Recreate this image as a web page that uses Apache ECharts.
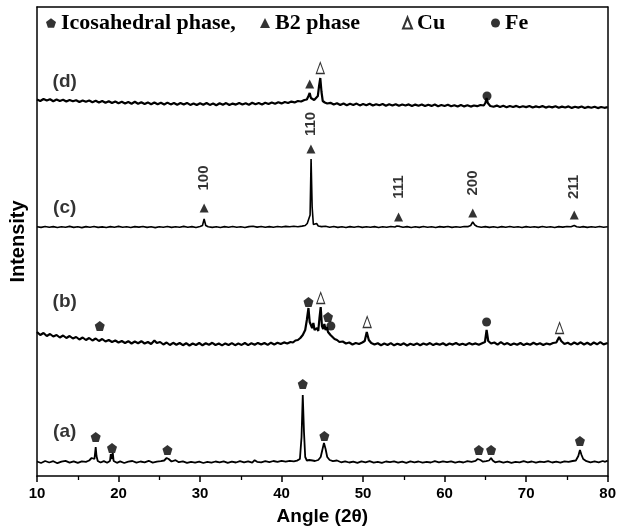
<!DOCTYPE html>
<html><head><meta charset="utf-8">
<script src="https://cdn.jsdelivr.net/npm/echarts@6/dist/echarts.min.js"></script>
<style>html,body{margin:0;padding:0;background:#fff}#c{width:619px;height:531px}</style>
</head><body><div id="c"></div><script>
// ---- data: [2theta, intensity above the trace baseline] ----
const traceA = [[10,0.5],[10.5,-1],[11,1],[11.5,-0.5],[12,0.8],[12.5,-1.2],[13,0.3],[13.5,1.1],[14,-0.6],[14.5,0.7],[15,-0.9],[15.5,0.6],[16,0.2],[16.4,1.5],[16.7,4],[16.9,5],[17.05,3],[17.2,15],[17.3,6],[17.45,1],[17.8,-0.5],[18.2,0.9],[18.6,-0.7],[18.95,1],[19.05,8],[19.15,3],[19.3,9],[19.4,1],[19.8,-0.8],[20.2,0.6],[20.7,-1],[21.2,0.4],[21.7,1],[22.2,-0.7],[22.7,0.5],[23.2,-0.3],[23.7,1.2],[24.2,-0.6],[24.7,0.3],[25.2,0.8],[25.6,1.5],[25.9,4],[26.15,3],[26.5,0.5],[27,1.8],[27.4,-0.2],[27.9,0.6],[28.4,-0.9],[28.9,0.2],[29.4,-0.6],[29.9,0.4],[30.4,-1],[30.9,0.1],[31.4,-0.7],[31.9,0.5],[32.4,-0.4],[32.9,0.7],[33.4,-0.8],[33.9,0.3],[34.4,-0.5],[34.9,0.9],[35.4,-0.3],[35.9,0.6],[36.4,-0.7],[36.7,1.8],[37,0.2],[37.5,-0.4],[38,0.8],[38.5,-0.2],[39,1],[39.5,0.1],[40,1.2],[40.5,0.3],[41,1.1],[41.5,0.6],[41.9,1.4],[42.25,3],[42.45,25],[42.6,67],[42.75,30],[42.9,5],[43.1,1.5],[43.4,2],[43.6,4],[43.8,1.5],[44.1,1],[44.5,2],[44.8,5],[45.0,12],[45.2,19],[45.4,13],[45.6,5],[45.9,2],[46.3,0.8],[46.8,1.5],[47.3,-0.3],[47.8,0.7],[48.3,-0.5],[48.8,0.4],[49.3,-0.8],[49.8,0.6],[50.3,-0.4],[50.8,0.8],[51.3,-0.6],[51.8,0.2],[52.3,-0.9],[52.8,0.5],[53.3,-0.2],[53.8,0.7],[54.3,-0.6],[54.8,0.3],[55.3,-0.8],[55.8,0.6],[56.3,-0.3],[56.8,0.5],[57.3,-0.7],[57.8,0.2],[58.3,-0.5],[58.8,0.8],[59.3,-0.4],[59.8,0.6],[60.3,-0.2],[60.8,0.7],[61.3,-0.6],[61.8,0.3],[62.3,-0.5],[62.8,0.9],[63.3,0.2],[63.8,1.2],[64.05,3],[64.2,4],[64.4,2],[64.7,0.3],[65.1,0.8],[65.45,1.5],[65.7,4],[65.9,1.5],[66.2,-0.3],[66.7,0.6],[67.2,-0.6],[67.7,0.4],[68.2,-0.9],[68.7,0.2],[69.2,-0.4],[69.7,0.8],[70.2,-0.3],[70.7,0.5],[71.2,-0.7],[71.7,0.4],[72.2,-0.2],[72.7,0.9],[73.2,-0.5],[73.7,0.3],[74.2,-0.6],[74.7,0.7],[75.2,0.1],[75.7,1],[76.1,1.5],[76.4,6],[76.6,12],[76.8,7],[77.0,3],[77.4,0.8],[77.9,-0.4],[78.4,0.6],[78.9,-0.3],[79.4,1],[79.7,0.2],[80,1.4]];
const traceB = [[10,12],[10.4,9],[10.8,11],[11.2,8],[11.6,10],[12,7.5],[12.4,9],[12.8,6.5],[13.2,8.5],[13.6,6],[14,8],[14.4,5.5],[14.8,7],[15.2,4.5],[15.6,6.5],[16,4],[16.4,6],[16.8,3.5],[17.2,5.5],[17.6,3],[18,5],[18.4,2.5],[18.8,4],[19.2,2],[19.6,3.5],[20,1.5],[20.4,3],[20.8,1],[21.2,2.8],[21.6,0.5],[22,2.5],[22.4,0.8],[22.8,2.8],[23.2,0.5],[23.6,2],[24,0],[24.4,3.5],[24.7,1],[25.1,2],[25.5,-0.5],[25.9,1.5],[26.3,-1],[26.7,1.2],[27.1,-0.8],[27.5,1],[27.9,-1.2],[28.3,0.8],[28.7,-1.5],[29.1,0.5],[29.5,-1],[29.9,1],[30.3,-1.3],[30.7,0.7],[31.1,-0.8],[31.5,1.2],[31.9,-1],[32.3,0.5],[32.7,-1.4],[33.1,0.6],[33.5,-1],[33.9,0.9],[34.3,-1.2],[34.7,0.4],[35.1,-0.9],[35.5,1],[35.9,-1.1],[36.3,0.7],[36.7,-0.8],[37.1,1.1],[37.5,-0.6],[37.9,1],[38.3,-0.9],[38.7,1.3],[39.1,-0.4],[39.5,1.2],[39.9,0],[40.3,1.6],[40.7,0.5],[41.1,2],[41.4,1.5],[41.7,3.5],[42,4],[42.3,6],[42.6,9],[42.9,14],[43.1,24],[43.3,36],[43.45,22],[43.6,20],[43.75,16],[43.9,21],[44.05,14],[44.2,12],[44.35,16],[44.5,13],[44.65,26],[44.8,37],[44.95,18],[45.1,15],[45.25,20],[45.4,14],[45.55,17],[45.7,12],[45.85,14],[46.0,9],[46.2,8],[46.5,5],[46.8,4],[47.1,2],[47.5,2.5],[47.9,0.5],[48.3,1.5],[48.7,-0.5],[49.1,1],[49.5,0],[49.9,1.5],[50.2,3],[50.45,12],[50.7,4],[51,1],[51.4,-0.5],[51.8,0.8],[52.2,-1.2],[52.6,0.4],[53,-1],[53.4,0.9],[53.8,-1.3],[54.2,0.3],[54.6,-0.9],[55,0.7],[55.4,-1.5],[55.8,0.2],[56.2,-1],[56.6,0.6],[57,-1.3],[57.4,0.5],[57.8,-0.7],[58.2,0.9],[58.6,-1.1],[59,0.4],[59.4,-0.8],[59.8,0.8],[60.2,-1.2],[60.6,0.5],[61,-0.6],[61.4,1],[61.8,-0.9],[62.2,0.3],[62.6,-1],[63,0.9],[63.4,-0.5],[63.8,0.6],[64.2,-0.8],[64.6,0.7],[64.95,2],[65.15,14],[65.35,3],[65.7,0.5],[66.1,1.5],[66.5,-0.6],[66.9,1.8],[67.3,-0.4],[67.7,0.9],[68.1,-1],[68.5,0.6],[68.9,-0.8],[69.3,1],[69.7,-1.1],[70.1,0.4],[70.5,-0.7],[70.9,1.2],[71.3,-0.5],[71.7,0.8],[72.1,-0.9],[72.5,0.5],[72.9,-0.4],[73.3,1],[73.7,1.5],[74.05,7],[74.3,3],[74.7,0],[75.1,1.2],[75.5,-0.6],[75.9,1.5],[76.3,-0.2],[76.7,1.7],[77.1,-0.5],[77.5,1.2],[77.9,-0.8],[78.3,1.5],[78.7,-0.3],[79.1,1.8],[79.5,-0.4],[80,1]];
const traceC = [[10,0.3],[10.5,-0.4],[11,0.5],[11.5,-0.2],[12,0.4],[12.5,-0.5],[13,0.2],[13.5,-0.3],[14,0.6],[14.5,-0.4],[15,0.3],[15.5,-0.6],[16,0.4],[16.5,-0.2],[17,0.5],[17.5,-0.4],[18,0.1],[18.5,-0.5],[19,0.4],[19.5,-0.2],[20,0.6],[20.5,-0.3],[21,0.2],[21.5,-0.5],[22,0.4],[22.5,-0.1],[23,0.5],[23.5,-0.4],[24,0.2],[24.5,-0.6],[25,0.3],[25.5,-0.2],[26,0.5],[26.5,-0.4],[27,0.3],[27.5,-0.3],[28,0.6],[28.5,-0.2],[29,0.4],[29.5,-0.5],[30,0.5],[30.3,1.5],[30.5,8],[30.7,1.5],[31,0.2],[31.5,-0.4],[32,0.3],[32.5,-0.5],[33,0.4],[33.5,-0.2],[34,0.5],[34.5,-0.3],[35,0.2],[35.5,-0.5],[36,0.4],[36.5,0.8],[37,-0.1],[37.5,0.5],[38,-0.3],[38.5,0.4],[39,-0.2],[39.5,0.5],[40,0],[40.5,0.6],[41,0.2],[41.5,0.7],[42,0.3],[42.5,0.9],[42.9,1.5],[43.15,3.5],[43.35,2],[43.5,12],[43.62,68],[43.75,20],[43.9,2.5],[44.1,1.5],[44.3,3.5],[44.5,1],[44.9,0.4],[45.4,0.8],[45.9,-0.2],[46.4,0.5],[46.9,-0.4],[47.4,0.3],[47.9,-0.5],[48.4,0.4],[48.9,-0.2],[49.4,0.5],[49.9,-0.4],[50.4,0.2],[50.9,-0.3],[51.4,0.4],[51.9,-0.5],[52.4,0.3],[52.9,-0.2],[53.4,0.5],[53.9,0],[54.15,1],[54.3,2.5],[54.5,0.6],[54.9,-0.3],[55.4,0.4],[55.9,-0.5],[56.4,0.2],[56.9,-0.4],[57.4,0.5],[57.9,-0.2],[58.4,0.3],[58.9,-0.5],[59.4,0.4],[59.9,-0.1],[60.4,0.5],[60.9,-0.4],[61.4,0.2],[61.9,-0.3],[62.4,0.5],[62.9,0.4],[63.2,1.5],[63.45,5],[63.7,2],[64,0.5],[64.5,-0.2],[65,0.4],[65.5,-0.4],[66,0.3],[66.5,-0.5],[67,0.4],[67.5,-0.2],[68,0.5],[68.5,-0.3],[69,0.2],[69.5,-0.5],[70,0.4],[70.5,-0.2],[71,0.3],[71.5,-0.4],[72,0.5],[72.5,-0.3],[73,0.2],[73.5,-0.5],[74,0.4],[74.5,-0.1],[75,0.5],[75.5,0.2],[75.9,1.5],[76.2,0.3],[76.6,-0.3],[77,0.4],[77.5,-0.4],[78,0.3],[78.5,-0.2],[79,0.5],[79.5,-0.3],[80,0.2]];
const traceD = [[10,4.5],[10.4,3],[10.8,5],[11.2,3.5],[11.6,4.8],[12,2.8],[12.4,4.5],[12.8,3],[13.2,4.2],[13.6,2.5],[14,4],[14.4,2.8],[14.8,3.8],[15.2,2],[15.6,3.6],[16,2.2],[16.4,3.5],[16.8,1.8],[17.2,3.2],[17.6,1.5],[18,3],[18.4,1.2],[18.8,2.8],[19.2,1],[19.6,2.5],[20,0.8],[20.4,2.2],[20.8,0.5],[21.2,2],[21.6,0.3],[22,2.2],[22.4,0.2],[22.8,1.8],[23.2,0],[23.6,1.6],[24,-0.2],[24.4,1.5],[24.8,-0.3],[25.2,1.2],[25.6,-0.5],[26,1.4],[26.4,-0.4],[26.8,1],[27.2,-0.8],[27.6,0.9],[28,-0.6],[28.4,1.1],[28.8,-0.9],[29.2,0.6],[29.6,-1],[30,0.8],[30.4,-0.7],[30.8,1],[31.2,-0.9],[31.6,0.5],[32,-1.2],[32.4,0.7],[32.8,-0.8],[33.2,0.9],[33.6,-1],[34,0.4],[34.4,-0.6],[34.8,1],[35.2,-0.5],[35.6,0.8],[36,-0.7],[36.4,1.2],[36.8,-0.3],[37.2,1],[37.6,-0.4],[38,1.3],[38.4,0],[38.8,1.5],[39.2,0.3],[39.6,1.8],[40,0.6],[40.4,2],[40.8,1],[41.2,2.4],[41.6,1.6],[42,3],[42.4,2.5],[42.8,4],[43.1,4.5],[43.3,8],[43.45,11],[43.6,6],[43.8,5],[44.0,4],[44.2,4.5],[44.45,8],[44.6,18],[44.75,26],[44.9,12],[45.05,3],[45.3,1.5],[45.6,0.5],[46,1.2],[46.4,-0.5],[46.8,0.8],[47.2,-1],[47.6,0.5],[48,-1.2],[48.4,0.2],[48.8,-1],[49.2,0.4],[49.6,-1.4],[50,0],[50.4,-1.2],[50.8,0.3],[51.2,-1.5],[51.6,-0.2],[52,-1.3],[52.4,0],[52.8,-1.7],[53.2,-0.3],[53.6,-1.6],[54,-0.2],[54.4,-1.8],[54.8,-0.5],[55.2,-1.5],[55.6,-0.4],[56,-2],[56.4,-0.6],[56.8,-1.8],[57.2,-0.5],[57.6,-2.1],[58,-0.8],[58.4,-1.9],[58.8,-0.6],[59.2,-2.2],[59.6,-1],[60,-2],[60.4,-0.8],[60.8,-2.3],[61.2,-1.2],[61.6,-2.5],[62,-1],[62.4,-2.4],[62.8,-1.3],[63.2,-2.6],[63.6,-1.5],[64,-2.2],[64.4,-1],[64.8,-1.5],[65.0,1],[65.15,6],[65.3,1],[65.6,-2],[66,-2.8],[66.4,-1.6],[66.8,-3],[67.2,-1.8],[67.6,-3.2],[68,-2],[68.4,-3],[68.8,-1.9],[69.2,-3.3],[69.6,-2.2],[70,-3.1],[70.4,-2],[70.8,-3.5],[71.2,-2.4],[71.6,-3.2],[72,-2.1],[72.4,-3.6],[72.8,-2.5],[73.2,-3.4],[73.6,-2.3],[74,-3.8],[74.4,-2.6],[74.8,-3.5],[75.2,-2.4],[75.6,-3.9],[76,-2.8],[76.4,-3.6],[76.8,-2.5],[77.2,-4],[77.6,-2.9],[78,-3.7],[78.4,-2.7],[78.8,-4.1],[79.2,-3],[79.6,-3.8],[80,-3.2]];

// vertical stacking offset of each pattern (a.u.)
const offsets = {a: 14, b: 132, c: 249, d: 372};
const panelLabels = [['(a)','a',13.4,30],['(b)','b',13.4,42],['(c)','c',13.4,19],['(d)','d',13.4,22]];

// phase markers: [trace, 2theta, height above baseline]
const icoMarks = [['a',17.2,25],['a',19.2,14],['a',26.0,12],['a',42.6,78],['a',45.25,26],['a',64.2,12],['a',65.7,12],['a',76.6,21],
                  ['b',17.7,18],['b',43.3,42],['b',45.7,27]];
const b2Marks  = [['c',30.5,19],['c',43.6,78],['c',54.35,10],['c',63.45,14],['c',75.9,12],['d',43.45,20]];
const cuMarks  = [['b',44.8,46],['b',50.5,22],['b',74.1,16],['d',44.75,36]];
const feMarks  = [['b',46.05,18],['b',65.15,22],['d',65.2,8]];
// Miller indices of B2 reflections in (c): [label, 2theta, height]
const hklLabels = [['100',30.5,49],['110',43.6,103],['111',54.35,40],['200',63.45,44],['211',75.9,40]];

const xMin = 10, xMax = 80, xStep = 10;
const yMax = 469;

// ---- build chart ----
const shift = (arr, k) => arr.map(p => [p[0], p[1] + offsets[k]]);
const marks = arr => arr.map(m => [m[1], m[2] + offsets[m[0]]]);
const pent = 'path://M0,-10 L9.51,-3.09 L5.88,8.09 L-5.88,8.09 L-9.51,-3.09 Z';
const lineSeries = (k, arr, w) => ({type:'line', data: shift(arr,k), showSymbol:false, symbol:'none', silent:true,
  lineStyle:{color:'#000', width:w}, z:2});

const chart = echarts.init(document.getElementById('c'), null, {renderer:'canvas'});
const legendFont = {fontFamily:'Liberation Serif', fontWeight:'bold', fontSize:22, color:'#000'};
const mkLegend = (name, left, w, h) => ({data:[name], left:left, top:12, itemWidth:w, itemHeight:h,
  textStyle:legendFont, selectedMode:false, padding:0, itemGap:0});
const sans = {fontFamily:'Liberation Sans', fontWeight:'bold', color:'#000'};

chart.setOption({
  animation:false,
  backgroundColor:'#fff',
  legend:[mkLegend('Icosahedral phase,',46,10,10), mkLegend('B2 phase',260,10,10), mkLegend('Cu',402,9,11), mkLegend('Fe',491,9,9)],
  grid:{left:35, right:9, top:7, bottom:55},
  xAxis:[{type:'value', min:xMin, max:xMax, interval:xStep, position:'bottom',
    axisLine:{show:true, onZero:false, lineStyle:{color:'#000', width:1.5}},
    axisTick:{show:true, inside:false, length:6, lineStyle:{color:'#000', width:1.5}},
    minorTick:{show:true, splitNumber:2, length:4, lineStyle:{color:'#000', width:1.3}},
    splitLine:{show:false}, minorSplitLine:{show:false},
    axisLabel:Object.assign({fontSize:15, margin:10}, sans),
    name:'Angle (2θ)', nameLocation:'middle', nameGap:31,
    nameTextStyle:Object.assign({fontSize:19}, sans)},
   {type:'value', min:xMin, max:xMax, position:'top', axisLine:{show:true, onZero:false, lineStyle:{color:'#000', width:1.5}},
    axisTick:{show:false}, axisLabel:{show:false}, splitLine:{show:false}}],
  yAxis:[{type:'value', min:0, max:yMax, position:'left',
    axisLine:{show:true, onZero:false, lineStyle:{color:'#000', width:1.5}},
    axisTick:{show:false}, axisLabel:{show:false}, splitLine:{show:false},
    name:'Intensity', nameLocation:'middle', nameGap:9,
    nameTextStyle:Object.assign({fontSize:20}, sans)},
   {type:'value', min:0, max:yMax, position:'right', axisLine:{show:true, onZero:false, lineStyle:{color:'#000', width:1.5}},
    axisTick:{show:false}, axisLabel:{show:false}, splitLine:{show:false}}],
  series:[
    lineSeries('a', traceA, 1.8), lineSeries('b', traceB, 2.2), lineSeries('c', traceC, 1.6), lineSeries('d', traceD, 2.2),
    {name:'Icosahedral phase,', type:'scatter', data:marks(icoMarks), symbol:pent, symbolSize:10,
      itemStyle:{color:'#000'}, z:5, silent:true},
    {name:'B2 phase', type:'scatter', data:marks(b2Marks), symbol:'triangle', symbolSize:[9,9],
      itemStyle:{color:'#000'}, z:5, silent:true},
    {name:'Cu', type:'scatter', data:marks(cuMarks), symbol:'triangle', symbolSize:[8,11],
      itemStyle:{color:'#fff', borderColor:'#000', borderWidth:1.2}, z:5, silent:true},
    {name:'Fe', type:'scatter', data:marks(feMarks), symbol:'circle', symbolSize:9,
      itemStyle:{color:'#000'}, z:5, silent:true},
    {type:'scatter', data:hklLabels.map(h => ({value:[h[1], h[2]+offsets.c], name:h[0]})), symbolSize:0, silent:true,
      label:Object.assign({show:true, position:'inside', rotate:90, formatter:p => p.name, fontSize:15}, sans), z:6},
    {type:'scatter', data:panelLabels.map(l => ({value:[l[2], l[3]+offsets[l[1]]], name:l[0]})), symbolSize:0, silent:true,
      label:Object.assign({show:true, position:'inside', formatter:p => p.name, fontSize:19}, sans), z:6}
  ]
});
</script></body></html>
